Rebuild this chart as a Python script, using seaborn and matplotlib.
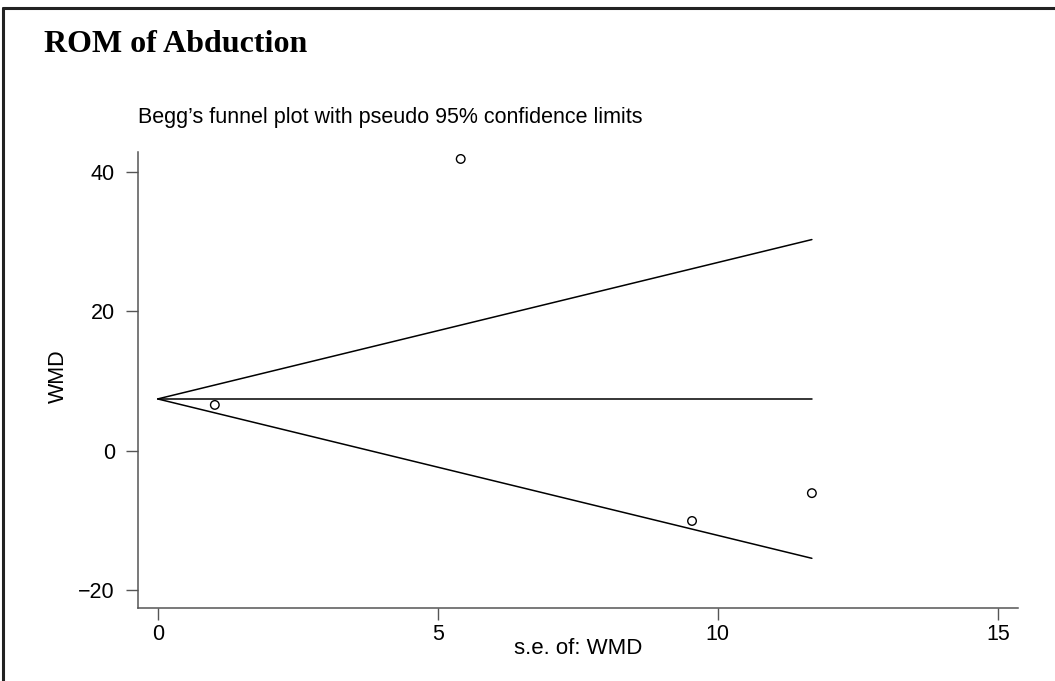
#!/usr/bin/env python3
"""Begg's funnel plot for ROM of abduction (WMD vs its standard error)."""

import matplotlib
matplotlib.use("Agg")
import matplotlib.pyplot as plt
from matplotlib.lines import Line2D
import pandas as pd
import seaborn as sns

# --- Data ---
se_wmd = [1.02, 5.41, 9.54, 11.68]
wmd = [6.57, 41.9, -10.1, -6.1]
pooled_wmd = 7.43
z95 = 1.96

x_ticks = [0, 5, 10, 15]
y_ticks = [-20, 0, 20, 40]

TITLE = "ROM of Abduction"
SUBTITLE = "Begg\u2019s funnel plot with pseudo 95% confidence limits"
W, H = 1055, 681
AXIS_GREY = "#555555"
FS = 15.5

sns.set_style("ticks")
plt.rcParams["font.family"] = ["Liberation Sans", "DejaVu Sans"]
plt.rcParams["text.color"] = "black"

studies = pd.DataFrame({"se": se_wmd, "wmd": wmd})
se_max = max(se_wmd)
funnel = pd.DataFrame({
    "se": [0, se_max, 0, se_max, 0, se_max],
    "wmd": [pooled_wmd, pooled_wmd + z95 * se_max,
            pooled_wmd, pooled_wmd,
            pooled_wmd, pooled_wmd - z95 * se_max],
    "line": ["upper", "upper", "mid", "mid", "lower", "lower"],
})

fig = plt.figure(figsize=(W / 100, H / 100), dpi=100)
ax = fig.add_axes([137.7 / W, 1 - 608 / H, (1018 - 137.7) / W, (608 - 152) / H])

for name, part in funnel.groupby("line"):
    sns.lineplot(data=part, x="se", y="wmd", ax=ax, color="black",
                 linewidth=1.1, estimator=None, sort=False)

sns.scatterplot(data=studies, x="se", y="wmd", ax=ax, marker="o", s=38,
                facecolors="none", edgecolor="black", linewidth=1.0, zorder=3)

ax.set_xlim(-0.357, 15.36)
ax.set_ylim(-22.6, 42.9)
ax.set_xticks(x_ticks)
ax.set_yticks(y_ticks)
ax.set_yticklabels([f"{v}".replace("-", "\u2212") for v in y_ticks])
ax.tick_params(axis="both", direction="out", length=8.5, width=1.0,
               color=AXIS_GREY, labelsize=FS, labelcolor="black")
ax.tick_params(axis="x", pad=3)
ax.tick_params(axis="y", pad=8)
for side in ["top", "right"]:
    ax.spines[side].set_visible(False)
for side in ["left", "bottom"]:
    ax.spines[side].set_color(AXIS_GREY)
    ax.spines[side].set_linewidth(1.1)

ax.set_xlabel("")
ax.set_ylabel("")
fig.text(578 / W, 1 - 649 / H, "s.e. of: WMD", ha="center", va="center", fontsize=FS + 0.5)
fig.text(58 / W, 1 - 376 / H, "WMD", ha="center", va="center", rotation=90, fontsize=FS)

fig.text(44 / W, 1 - 52 / H, TITLE, ha="left", va="baseline", fontsize=23,
         fontweight="bold", family=["Liberation Serif", "DejaVu Serif"])
fig.text(138 / W, 1 - 123 / H, SUBTITLE, ha="left", va="baseline", fontsize=FS)

# frame: only top and left edges are visible in the source image
fig.add_artist(Line2D([3 / W, 1], [1 - 8 / H, 1 - 8 / H], transform=fig.transFigure,
                      color="#222222", linewidth=2.2))
fig.add_artist(Line2D([3 / W, 3 / W], [0, 1 - 8 / H], transform=fig.transFigure,
                      color="#222222", linewidth=2.2))

fig.savefig("out.png", dpi=100)
plt.close(fig)
